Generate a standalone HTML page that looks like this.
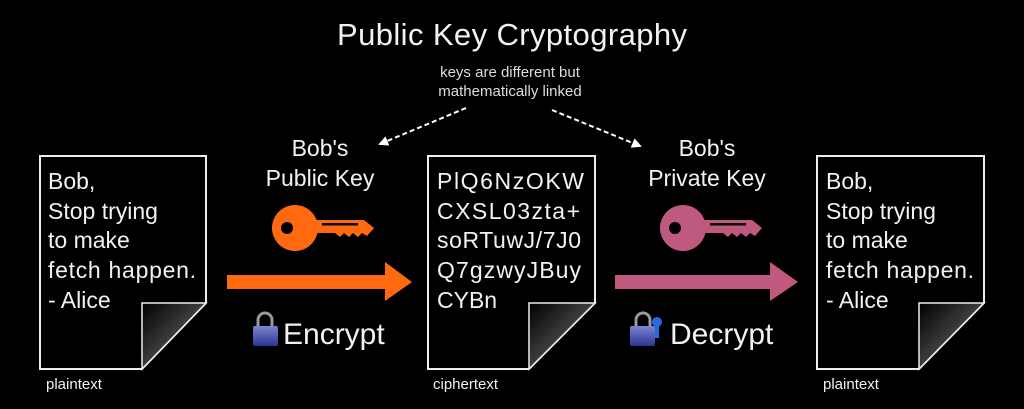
<!DOCTYPE html>
<html><head><meta charset="utf-8"><style>
html,body{margin:0;padding:0;background:#000;}
svg{display:block;}
text{font-family:"Liberation Sans",sans-serif;fill:#f2f2f2;}
</style></head><body>
<svg width="1024" height="409" viewBox="0 0 1024 409" xmlns="http://www.w3.org/2000/svg">
<defs>
<linearGradient id="fold" x1="0" y1="0" x2="1" y2="1">
<stop offset="0" stop-color="#000"/><stop offset="0.55" stop-color="#444"/><stop offset="1" stop-color="#eee"/>
</linearGradient>
<linearGradient id="lock" x1="0" y1="0" x2="0" y2="1">
<stop offset="0" stop-color="#7a86d0"/><stop offset="1" stop-color="#2a3590"/>
</linearGradient>
<marker id="ah" markerWidth="10" markerHeight="10" refX="8" refY="5" orient="auto" markerUnits="userSpaceOnUse">
<path d="M0,0 L10,5 L0,10 z" fill="#fff"/>
</marker>
</defs>
<rect width="1024" height="409" fill="#000"/>

<text x="512" y="45" font-size="31" text-anchor="middle" textLength="350">Public Key Cryptography</text>
<text x="510" y="77" font-size="15" text-anchor="middle" fill="#ddd" style="fill:#ddd">keys are different but</text>
<text x="510" y="96" font-size="15" text-anchor="middle" style="fill:#ddd">mathematically linked</text>

<line x1="466" y1="108" x2="380" y2="144" stroke="#fff" stroke-width="2" stroke-dasharray="5,3" marker-end="url(#ah)"/>
<line x1="552" y1="110" x2="640" y2="146" stroke="#fff" stroke-width="2" stroke-dasharray="5,3" marker-end="url(#ah)"/>

<!-- left doc -->
<path d="M40,156 H206 V303 L142,369 H40 Z" fill="#000" stroke="#eee" stroke-width="2"/>
<path d="M142,303 H206 L142,369 Z" fill="url(#fold)" stroke="#eee" stroke-width="1.5"/>
<g font-size="23">
<text x="48" y="189">Bob,</text>
<text x="48" y="219">Stop trying</text>
<text x="48" y="248">to make</text>
<text x="48" y="278" textLength="148">fetch happen.</text>
<text x="48" y="308">- Alice</text>
</g>
<text x="46" y="389" font-size="15">plaintext</text>

<!-- middle doc -->
<path d="M428,156 H595 V303 L529,369 H428 Z" fill="#000" stroke="#eee" stroke-width="2"/>
<path d="M529,303 H595 L529,369 Z" fill="url(#fold)" stroke="#eee" stroke-width="1.5"/>
<g font-size="23">
<text x="437" y="189" textLength="147">PlQ6NzOKW</text>
<text x="437" y="219" textLength="143">CXSL03zta+</text>
<text x="437" y="248" textLength="144">soRTuwJ/7J0</text>
<text x="437" y="278" textLength="144">Q7gzwyJBuy</text>
<text x="437" y="308">CYBn</text>
</g>
<text x="433" y="389" font-size="15">ciphertext</text>

<!-- right doc -->
<path d="M817,156 H984 V303 L919,369 H817 Z" fill="#000" stroke="#eee" stroke-width="2"/>
<path d="M919,303 H984 L919,369 Z" fill="url(#fold)" stroke="#eee" stroke-width="1.5"/>
<g font-size="23">
<text x="826" y="189">Bob,</text>
<text x="826" y="219">Stop trying</text>
<text x="826" y="248">to make</text>
<text x="826" y="278" textLength="148">fetch happen.</text>
<text x="826" y="308">- Alice</text>
</g>
<text x="823" y="389" font-size="15">plaintext</text>

<!-- labels -->
<g font-size="23" text-anchor="middle">
<text x="320" y="156">Bob's</text>
<text x="320" y="186">Public Key</text>
<text x="707" y="156">Bob's</text>
<text x="707" y="186">Private Key</text>
</g>

<!-- orange key -->
<g fill="#ff6a10">
<circle cx="295" cy="228" r="23"/>
<path d="M312,220 H364 L374,228 L367,236 L362,233 L358,237 L353,233 L349,237 L344,233 L340,237 L335,233 H312 Z"/>
</g>
<circle cx="287" cy="228" r="6" fill="#000"/>
<rect x="322" y="223" width="36" height="2.5" fill="#000"/>

<!-- pink key -->
<g fill="#c0597f">
<circle cx="683" cy="228" r="23"/>
<path d="M700,220 H752 L762,228 L755,236 L750,233 L746,237 L741,233 L737,237 L732,233 L728,237 L723,233 H700 Z"/>
</g>
<circle cx="675" cy="228" r="6" fill="#000"/>
<rect x="710" y="223" width="36" height="2.5" fill="#000"/>

<!-- arrows -->
<path d="M227,275 H385 V262 L412,282 L385,301 V289 H227 Z" fill="#ff6a10"/>
<path d="M615,275 H770 V262 L798,282 L770,301 V289 H615 Z" fill="#c0597f"/>

<!-- Encrypt -->
<path d="M258,326 V320 a7,7 0 0 1 14,0 V326" fill="none" stroke="#999" stroke-width="3"/>
<rect x="253" y="326" width="25" height="20" rx="2" fill="url(#lock)"/>
<text x="283" y="344" font-size="30">Encrypt</text>

<!-- Decrypt -->
<path d="M636,326 V320 a7,7 0 0 1 14,0 V326" fill="none" stroke="#999" stroke-width="3"/>
<rect x="630" y="326" width="25" height="20" rx="2" fill="url(#lock)"/>
<circle cx="657" cy="322" r="5" fill="#2a6ae0"/>
<rect x="655" y="325" width="4" height="13" fill="#2a6ae0"/>
<text x="670" y="344" font-size="30">Decrypt</text>
</svg>
</body></html>
